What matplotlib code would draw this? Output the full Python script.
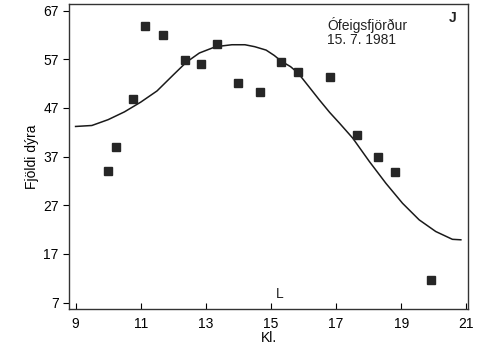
import numpy as np
import matplotlib
matplotlib.use('Agg')
import matplotlib.pyplot as plt

# Observed counts
obs_x = [10.0, 10.23, 10.75, 11.14, 11.67, 12.36, 12.84, 13.35, 13.99, 14.67,
         15.32, 15.83, 16.80, 17.64, 18.29, 18.82, 19.91]
obs_y = [34.1, 38.9, 48.9, 63.9, 62.0, 56.9, 56.1, 60.1, 52.2, 50.3,
         56.4, 54.4, 53.4, 41.5, 37.0, 33.8, 11.7]

# Fitted curve
fit_x = [9.0, 9.5, 10.0, 10.5, 11.0, 11.5, 12.0, 12.4, 12.8, 13.3, 13.8, 14.2,
         14.5, 14.85, 15.1, 15.32, 15.6, 15.83, 16.15, 16.48, 16.8, 17.1, 17.51,
         18.02, 18.53, 19.04, 19.55, 20.06, 20.57, 20.83]
fit_y = [43.2, 43.4, 44.6, 46.2, 48.2, 50.5, 53.8, 56.4, 58.3, 59.6, 60.0, 60.0,
         59.6, 58.9, 57.8, 56.6, 55.5, 54.2, 51.5, 48.7, 46.1, 43.9, 40.8,
         36.0, 31.5, 27.4, 24.0, 21.6, 20.0, 19.9]

xticks = [9, 11, 13, 15, 17, 19, 21]
yticks = [7, 17, 27, 37, 47, 57, 67]

plt.rcParams['font.family'] = ['Liberation Sans', 'DejaVu Sans']

fig = plt.figure(figsize=(4.83, 3.53), dpi=100)
ax = fig.add_axes([0.143, 0.125, 0.826, 0.864])

ax.plot(fit_x, fit_y, color='#1a1a1a', linewidth=1.1)
ax.plot(obs_x, obs_y, linestyle='none', marker='s', markersize=6.2,
        color='#262626')

ax.set_xlim(8.8, 21.05)
ax.set_ylim(5.7, 68.4)
ax.set_xticks(xticks)
ax.set_yticks(yticks)
ax.tick_params(axis='x', direction='in', length=4, labelsize=10, pad=6)
ax.tick_params(axis='y', direction='out', length=4, labelsize=10)
ax.tick_params(top=False, right=False)

ax.set_xlabel('Kl.', fontsize=10, labelpad=0)
ax.set_ylabel('Fjöldi dýra', fontsize=10, labelpad=3)

ax.text(16.72, 65.8, 'Ófeigsfjörður\n15. 7. 1981', fontsize=10, va='top',
        ha='left', linespacing=1.0, color='#222222')
ax.text(20.57, 65.4, 'J', fontsize=10, fontweight='bold', va='center',
        ha='center', color='#222222')
ax.text(15.26, 8.8, 'L', fontsize=10, va='center', ha='center', color='#222222')

for s in ax.spines.values():
    s.set_linewidth(1.0)
    s.set_color('#333333')

plt.savefig('out.png', dpi=100)
